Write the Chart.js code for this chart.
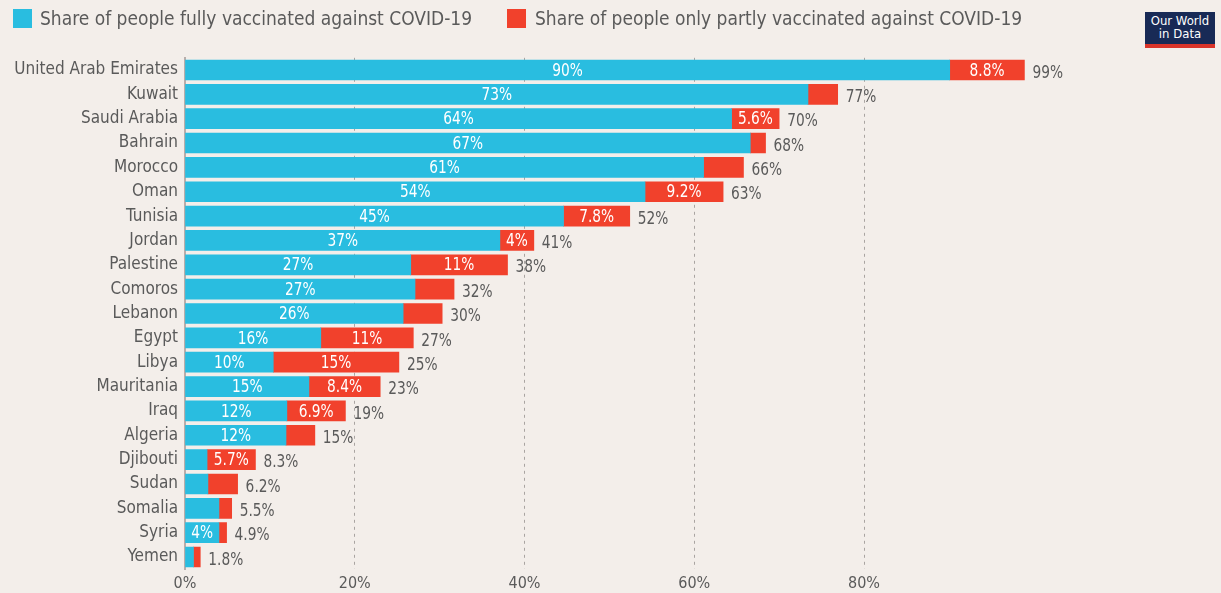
<!DOCTYPE html>
<html>
<head>
<meta charset="utf-8">
<title>COVID-19 vaccination, Arab League</title>
<script src="https://cdn.jsdelivr.net/npm/chart.js@4.4.0/dist/chart.umd.min.js"></script>
<style>
    html, body { margin: 0; padding: 0; background: #f3eeea; }
    .wrap { position: relative; width: 1221px; height: 593px; overflow: hidden; }
    .legend { position: absolute; top: 0; left: 0; height: 38px; font: 19px 'DejaVu Sans Condensed', sans-serif; color: #5a5a5a; }
    .legend .box { position: absolute; top: 9px; width: 19px; height: 19px; }
    .legend .text { position: absolute; top: 7px; white-space: nowrap; line-height: 22px; }
    .logo { position: absolute; left: 1145px; top: 12px; width: 70px; height: 30px; padding-top: 2px; background: #182a56; border-bottom: 4px solid #d9342a; color: #fff; text-align: center; font: 13px/13px 'DejaVu Sans Condensed', sans-serif; }
    canvas { position: absolute; top: 0; left: 0; }
</style>
</head>
<body>
<div class="wrap">
    <canvas id="chart" width="1221" height="593"></canvas>
    <div class="legend">
        <span class="box" style="left:13px;background:#29bde0"></span>
        <span class="text" style="left:40px">Share of people fully vaccinated against COVID-19</span>
        <span class="box" style="left:507px;background:#f1412c"></span>
        <span class="text" style="left:535px">Share of people only partly vaccinated against COVID-19</span>
    </div>
    <div class="logo">Our World<br>in Data</div>
</div>
<script>
// Доля вакцинированных, %
const countries = ['United Arab Emirates', 'Kuwait', 'Saudi Arabia', 'Bahrain', 'Morocco', 'Oman', 'Tunisia',
    'Jordan', 'Palestine', 'Comoros', 'Lebanon', 'Egypt', 'Libya', 'Mauritania', 'Iraq', 'Algeria',
    'Djibouti', 'Sudan', 'Somalia', 'Syria', 'Yemen'];
const fully = [90.1, 73.4, 64.4, 66.6, 61.1, 54.2, 44.6, 37.1, 26.6, 27.1, 25.7, 16.0, 10.4, 14.6, 12.0, 11.9,
    2.6, 2.7, 4.0, 4.0, 1.0];
const partly = [8.8, 3.5, 5.6, 1.8, 4.7, 9.2, 7.8, 4.0, 11.4, 4.6, 4.6, 10.9, 14.8, 8.4, 6.9, 3.4,
    5.7, 3.5, 1.5, 0.9, 0.8];
// какие подписи внутри столбцов видны
const fullLabelShown = [1, 1, 1, 1, 1, 1, 1, 1, 1, 1, 1, 1, 1, 1, 1, 1, 0, 0, 0, 1, 0];
const partlyLabelShown = [1, 0, 1, 0, 0, 1, 1, 1, 1, 0, 0, 1, 1, 1, 1, 0, 1, 0, 0, 0, 0];
const xTicks = [0, 20, 40, 60, 80];

const FONT = "'DejaVu Sans Condensed', sans-serif";
const TEXT_COLOR = '#5a5a5a';

const pct = v => `${Number(v.toPrecision(2))}%`;

// Узкий текст: сжимаем по ширине
const narrowText = (ctx, text, x, y) => {
    const w = ctx.measureText(text).width;
    ctx.fillText(text, x, y, w * 0.85);
};

// Подписи значений: внутри сегментов и итог справа
const valueLabels = {
    id: 'valueLabels',
    afterDatasetsDraw(chart) {
        const ctx = chart.ctx;
        const full = chart.getDatasetMeta(0).data;
        const part = chart.getDatasetMeta(1).data;
        ctx.save();
        ctx.font = `18px ${FONT}`;
        ctx.textBaseline = 'middle';
        countries.forEach((c, i) => {
            ctx.fillStyle = '#ffffff';
            ctx.textAlign = 'center';
            if (fullLabelShown[i]) narrowText(ctx, pct(fully[i]), (full[i].x + full[i].base) / 2, full[i].y + 1);
            if (partlyLabelShown[i]) narrowText(ctx, pct(partly[i]), (part[i].x + part[i].base) / 2, part[i].y + 1);
            ctx.fillStyle = TEXT_COLOR;
            ctx.textAlign = 'left';
            narrowText(ctx, pct(fully[i] + partly[i]), part[i].x + 8, part[i].y + 3);
        });
        ctx.restore();
    }
};

new Chart(document.getElementById('chart'), {
    type: 'bar',
    data: {
        labels: countries,
        datasets: [
            { label: 'Share of people fully vaccinated against COVID-19', data: fully, backgroundColor: '#29bde0' },
            { label: 'Share of people only partly vaccinated against COVID-19', data: partly, backgroundColor: '#f1412c' }
        ]
    },
    options: {
        indexAxis: 'y',
        responsive: false,
        animation: false,
        barThickness: 20,
        layout: { padding: { top: 57.8, right: 187.25, left: 0, bottom: 0 } },
        plugins: {
            legend: { display: false },
            tooltip: { enabled: false }
        },
        scales: {
            x: {
                stacked: true,
                min: 0,
                max: 100,
                afterBuildTicks: scale => { scale.ticks = xTicks.map(v => ({ value: v })); },
                afterFit: scale => { scale.height = 23.8; },
                ticks: {
                    padding: 5,
                    color: TEXT_COLOR,
                    font: { family: FONT, size: 16 },
                    callback: v => `${v}%`
                },
                grid: {
                    drawTicks: false,
                    lineWidth: 1,
                    color: c => (c.tick && c.tick.value === 0) ? 'rgba(0,0,0,0)' : '#a9a4a1'
                },
                border: { display: false, dash: [3, 4] }
            },
            y: {
                stacked: true,
                afterFit: scale => { scale.width = 185; },
                ticks: {
                    padding: 7,
                    color: TEXT_COLOR,
                    font: { family: FONT, size: 17 }
                },
                grid: { display: false, drawTicks: false },
                border: { display: true, color: '#b8aeab', width: 2 }
            }
        }
    },
    plugins: [valueLabels]
});
</script>
</body>
</html>
